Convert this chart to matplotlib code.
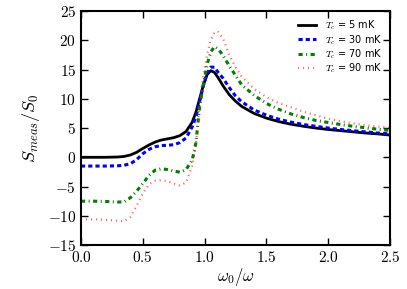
import numpy as np
import matplotlib
matplotlib.use("Agg")
import matplotlib.pyplot as plt
from matplotlib.ticker import FuncFormatter

plt.rcParams['mathtext.fontset'] = 'cm'
plt.rcParams['font.family'] = 'DejaVu Sans'
plt.rcParams['lines.scale_dashes'] = False

x = [0, 0.1, 0.2, 0.3, 0.35, 0.4, 0.45, 0.5, 0.55, 0.6, 0.65, 0.7, 0.75, 0.8,
     0.85, 0.9, 0.93, 0.96, 0.99, 1.02, 1.05, 1.08, 1.11, 1.15, 1.2, 1.25, 1.3,
     1.4, 1.5, 1.6, 1.7, 1.8, 1.9, 2.0, 2.1, 2.2, 2.3, 2.4, 2.5]

s_5mK = [0, 0, 0, 0.05, 0.15, 0.4, 0.85, 1.5, 2.1, 2.6, 2.95, 3.15, 3.35, 3.7,
         4.4, 6.0, 7.7, 10.0, 12.3, 14.1, 14.8, 14.5, 13.6, 12.2, 10.7, 9.6, 8.7,
         7.5, 6.7, 6.1, 5.65, 5.3, 5.0, 4.75, 4.55, 4.35, 4.15, 4.0, 3.8]

s_30mK = [-1.5, -1.5, -1.5, -1.45, -1.35, -1.1, -0.4, 0.6, 1.35, 1.8, 2.0, 2.05, 2.15, 2.5,
          3.3, 5.2, 6.9, 9.5, 12.2, 14.3, 15.4, 15.4, 14.5, 13.5, 11.9, 10.5, 9.5,
          8.1, 7.2, 6.5, 6.0, 5.6, 5.3, 5.0, 4.75, 4.55, 4.35, 4.15, 4.0]

s_70mK = [-7.5, -7.5, -7.55, -7.65, -7.6, -6.9, -5.8, -4.5, -3.1, -2.2, -1.95, -2.1, -2.35, -2.55,
          -2.1, -0.5, 2.5, 8.5, 12.5, 15.8, 18.0, 18.9, 18.5, 17.4, 15.6, 14.0, 12.4,
          10.6, 9.2, 8.2, 7.4, 6.8, 6.3, 5.95, 5.6, 5.3, 5.05, 4.8, 4.6]

s_90mK = [-10.6, -10.6, -10.7, -10.85, -10.9, -10.2, -8.3, -6.2, -4.6, -4.0, -3.9, -4.1, -4.5, -4.85,
          -4.3, -1.5, 2.2, 9.0, 14.0, 17.5, 20.0, 21.4, 21.4, 20.3, 17.5, 15.4, 13.8,
          11.7, 10.3, 9.25, 8.55, 7.8, 7.2, 6.6, 6.15, 5.8, 5.5, 5.25, 5.1]

labels = ['5', '30', '70', '90']

fig = plt.figure(figsize=(4.07, 2.89), dpi=100)
ax = fig.add_axes([0.199, 0.152, 0.759, 0.81])

ax.plot(x, s_5mK, 'k-', lw=2, label=r'$T_c$ = %s mK' % labels[0])
ax.plot(x, s_30mK, color='b', ls=(0, (3, 2.2)), lw=2.2, label=r'$T_c$ = %s mK' % labels[1])
ax.plot(x, s_70mK, color='g', ls=(0, (3, 2.5, 0.7, 2.5)), lw=2.2, label=r'$T_c$ = %s mK' % labels[2])
ax.plot(x, s_90mK, color='r', ls=(0, (0.8, 2.8)), lw=1.6, alpha=0.6, label=r'$T_c$ = %s mK' % labels[3])

ax.set_xlim(0, 2.5)
ax.set_ylim(-15, 25)
ax.set_xticks(np.arange(0, 2.51, 0.5))
ax.set_yticks(np.arange(-15, 26, 5))
ax.xaxis.set_major_formatter(FuncFormatter(lambda v, p: r'$%.1f$' % v))
ax.yaxis.set_major_formatter(FuncFormatter(lambda v, p: r'$%d$' % v))
ax.tick_params(direction='in', top=True, right=True, length=5, width=1, labelsize=11)
for sp in ax.spines.values():
    sp.set_linewidth(1.5)

ax.set_xlabel(r'$\omega_0/\omega$', fontsize=12, labelpad=1)
ax.set_ylabel(r'$S_{meas}/S_0$', fontsize=13)

ax.legend(loc='upper right', frameon=False, fontsize=7, handlelength=1.9,
          handletextpad=0.9, labelspacing=0.05, borderaxespad=0.4)

fig.savefig('out.png', dpi=100)
